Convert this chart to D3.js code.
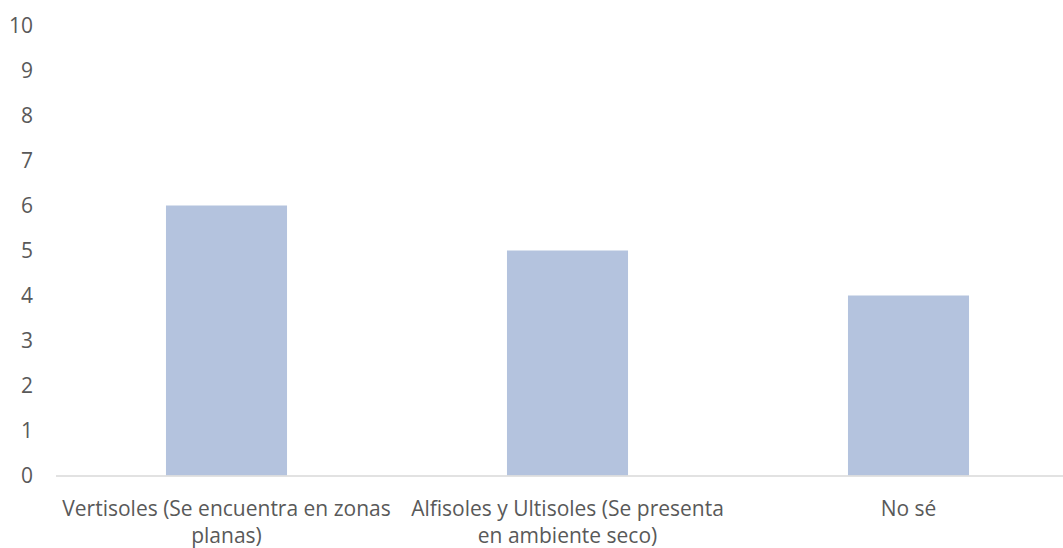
<!DOCTYPE html>
<html><head><meta charset="utf-8">
<script src="https://cdn.jsdelivr.net/npm/d3@7"></script>
<style>body{margin:0;background:#fff}svg{display:block}</style>
</head><body>
<script>
const categories = [["Vertisoles (Se encuentra en zonas", "planas)"], ["Alfisoles y Ultisoles (Se presenta", "en ambiente seco)"], ["No sé"]];
const values = [6, 5, 4];
const yTicks = [0,1,2,3,4,5,6,7,8,9,10];

const W = 1063, H = 548;
const svg = d3.select("body").append("svg").attr("width", W).attr("height", H);
const font = "'Open Sans', sans-serif";
const x = d3.scaleBand().domain(d3.range(categories.length)).range([56, 1079]).paddingInner(0.645).paddingOuter(0.3225);
const y = d3.scaleLinear().domain([0, 10]).range([475.5, 25.5]);

// y labels
svg.append("g").selectAll("text").data(yTicks).join("text")
  .attr("x", 33).attr("y", d => y(d) + 7.5)
  .attr("text-anchor", "end").attr("font-family", font).attr("font-size", 21)
  .attr("fill", "#595959").text(d => d);

// bars
svg.append("g").selectAll("rect").data(values).join("rect")
  .attr("x", (d,i) => x(i)).attr("width", x.bandwidth())
  .attr("y", d => y(d)).attr("height", d => y(0) - y(d))
  .attr("fill", "#b4c3de");

// axis line
svg.append("line").attr("x1", 56).attr("x2", 1079).attr("y1", y(0)+0.5).attr("y2", y(0)+0.5)
  .attr("stroke", "#d9d9d9").attr("stroke-width", 1.5);

// category labels
const g = svg.append("g");
categories.forEach((lines, i) => {
  lines.forEach((ln, j) => {
    g.append("text").attr("text-anchor", "middle").attr("font-family", font)
      .attr("font-size", 21).attr("fill", "#595959")
      .attr("x", x(i) + x.bandwidth()/2).attr("y", 516 + j*27).text(ln);
  });
});
</script>
</body></html>
